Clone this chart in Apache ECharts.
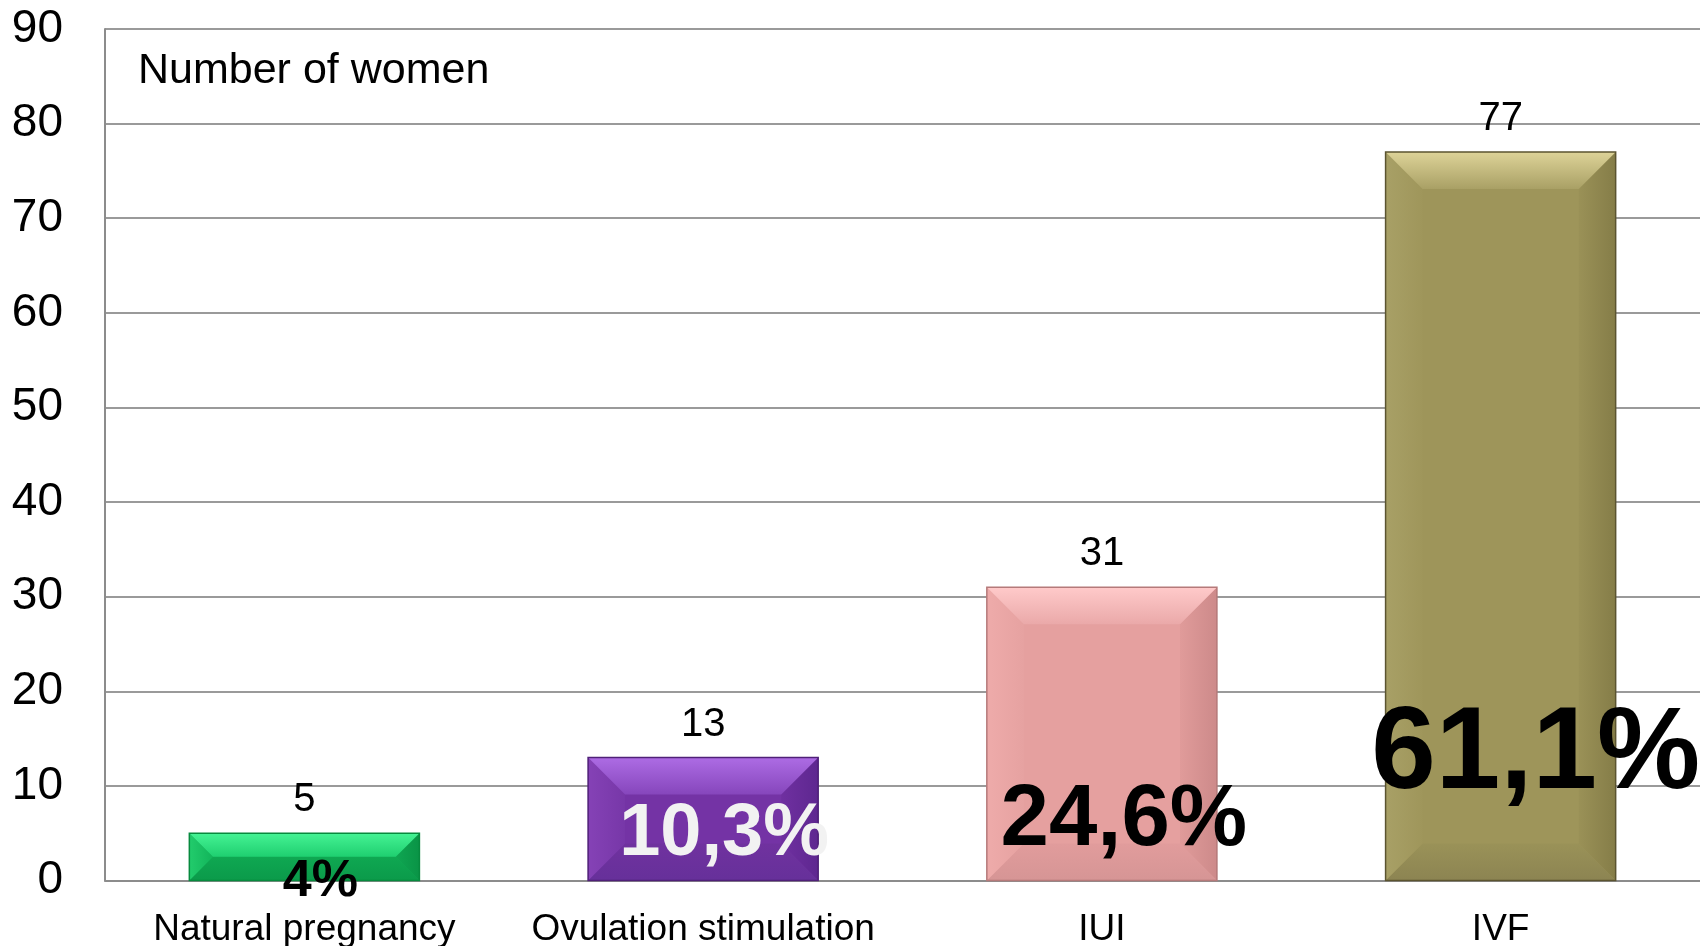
<!DOCTYPE html>
<html>
<head>
<meta charset="utf-8">
<title>Number of women</title>
<script src="https://cdn.jsdelivr.net/npm/echarts@6/dist/echarts.min.js"></script>
<style>
  html, body { margin: 0; padding: 0; background: #fff; }
  #chart { width: 1700px; height: 946px; }
</style>
</head>
<body>
<div id="chart"></div>
<script>
// data
var categories = ["Natural pregnancy", "Ovulation stimulation", "IUI", "IVF"];
var women = [5, 13, 31, 77];
var shares = ["4%", "10,3%", "24,6%", "61,1%"];

// bevel colours for each bar: face, top (gradient), left, right, bottom, edge
var palette = [
  { face: "#0fac54", top: ["#45f394", "#1fcf70"], left: ["#22cc6c", "#12b45a"], right: ["#0fa652", "#0a9446"], bottom: ["#0fa852", "#0b9a4a"], edge: "#078a3e" },
  { face: "#7433a5", top: ["#ad6ce4", "#8646bc"], left: ["#8542b6", "#7737a8"], right: ["#6f30a0", "#5e2790"], bottom: ["#70329f", "#66309a"], edge: "#4f2078" },
  { face: "#e5a09f", top: ["#ffcaca", "#eaa9a9"], left: ["#eeabaa", "#e6a2a1"], right: ["#e09b9a", "#cd8a8a"], bottom: ["#e19c9c", "#d69595"], edge: "#b57a7a" },
  { face: "#9e955a", top: ["#ddd398", "#a9a065"], left: ["#a8a066", "#9f965b"], right: ["#9a9157", "#857d48"], bottom: ["#9a9258", "#8c8452"], edge: "#5b5430" }
];

// the percent text boxes sit at their own place on each bar
var shareStyle = [
  { size: 52, color: "#000", dx: 16, lift: -1.5 },
  { size: 74, color: "#f2f2f2", dx: 21, lift: 46 },
  { size: 87, color: "#000", dx: 22, lift: 59 },
  { size: 116, color: "#000", dx: 35, lift: 124 }
];

var font = "'Liberation Sans', Arial, sans-serif";
var chart = echarts.init(document.getElementById("chart"));

function grad(horizontal, a, b) {
  return new echarts.graphic.LinearGradient(0, 0, horizontal ? 1 : 0, horizontal ? 0 : 1, [
    { offset: 0, color: a }, { offset: 1, color: b }
  ]);
}

function renderBar(params, api) {
  var i = api.value(0);
  var top = api.coord([i, api.value(1)]);
  var base = api.coord([i, 0]);
  var w = api.size([1, 0])[0] * 0.577;
  var x0 = top[0] - w / 2, x1 = top[0] + w / 2;
  var y0 = top[1], y1 = base[1];
  var h = y1 - y0;
  var b = Math.min(37, h / 2, w / 2);
  var c = palette[i];
  var s = shareStyle[i];
  return {
    type: "group",
    children: [
      { type: "rect", shape: { x: x0, y: y0, width: w, height: h }, style: { fill: c.face } },
      {
        type: "polygon",
        shape: { points: [[x0, y1], [x1, y1], [x1 - b, y1 - b], [x0 + b, y1 - b]] },
        style: { fill: grad(false, c.bottom[0], c.bottom[1]) }
      },
      {
        type: "polygon",
        shape: { points: [[x0, y0], [x0 + b, y0 + b], [x0 + b, y1 - b], [x0, y1]] },
        style: { fill: grad(true, c.left[0], c.left[1]) }
      },
      {
        type: "polygon",
        shape: { points: [[x1, y0], [x1 - b, y0 + b], [x1 - b, y1 - b], [x1, y1]] },
        style: { fill: grad(true, c.right[0], c.right[1]) }
      },
      {
        type: "polygon",
        shape: { points: [[x0, y0], [x1, y0], [x1 - b, y0 + b], [x0 + b, y0 + b]] },
        style: { fill: grad(false, c.top[0], c.top[1]) }
      },
      { type: "rect", shape: { x: x0, y: y0, width: w, height: h }, style: { fill: null, stroke: c.edge, lineWidth: 1.5 } },
      // value above bar
      {
        type: "text",
        style: {
          x: top[0], y: y0 - 33, text: String(api.value(1)),
          font: "40px " + font, fill: "#000", align: "center", verticalAlign: "middle"
        }
      },
      // percent text box
      {
        type: "text",
        style: {
          x: top[0] + s.dx, y: y1 - s.lift, text: shares[i],
          font: "bold " + s.size + "px " + font, fill: s.color, align: "center", verticalAlign: "middle"
        }
      }
    ]
  };
}

var option = {
  animation: false,
  backgroundColor: "#fff",
  grid: { left: 105, right: 0, top: 29, bottom: 65.5, outerBoundsMode: "none" },
  graphic: [
    {
      type: "text", left: 138, top: 50,
      style: { text: "Number of women", font: "43px " + font, fill: "#000" }
    }
  ],
  xAxis: {
    type: "category",
    data: categories,
    axisTick: { show: false },
    axisLine: { lineStyle: { color: "#8c8c8c", width: 2 } },
    axisLabel: { color: "#000", fontSize: 37, fontFamily: font, margin: 31, interval: 0 }
  },
  yAxis: {
    type: "value",
    min: 0,
    max: 90,
    interval: 10,
    axisLine: { show: true, lineStyle: { color: "#8c8c8c", width: 2 } },
    axisTick: { show: false },
    splitLine: { lineStyle: { color: "#9a9a9a", width: 2 } },
    axisLabel: { color: "#000", fontSize: 46, fontFamily: font, margin: 42 }
  },
  series: [
    {
      type: "custom",
      renderItem: renderBar,
      encode: { x: 0, y: 1 },
      data: women.map(function (v, i) { return [i, v]; }),
      clip: false
    }
  ]
};

chart.setOption(option);
</script>
</body>
</html>
